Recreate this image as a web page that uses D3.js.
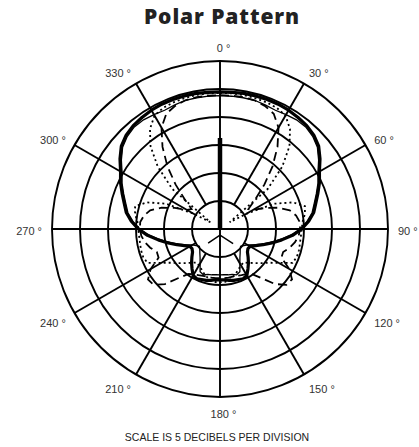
<!DOCTYPE html>
<html lang="en">
<head>
<meta charset="UTF-8">
<title>Polar Pattern</title>
<script src="https://d3js.org/d3.v7.min.js"></script>
<style>
  body { margin: 0; background: #fff; }
</style>
</head>
<body>
<div id="chart"></div>
<script>
// angles in degrees, clockwise from the front (0)
var angles = d3.range(0, 360, 5);

// response in dB, outer ring = 0 dB, centre = -30 dB
var thickDb = [-5.5,-5.5,-5.4,-5.4,-5.4,-5.4,-5.5,-5.7,-5.9,-6.3,-7.0,-8.2,-9.5,-10.4,-11.4,-12.3,-13.0,-14.1,-15.4,-17.0,-18.8,-20.4,-21.8,-23.0,-23.8,-23.9,-23.6,-22.9,-22.1,-21.3,-20.4,-20.2,-20.4,-20.5,-20.7,-20.9,-20.9,
  -20.9,-20.7,-20.5,-20.4,-20.2,-20.4,-21.3,-22.1,-22.9,-23.6,-23.9,-23.8,-23.0,-21.8,-20.4,-18.8,-17.0,-15.4,-14.1,-13.0,-12.3,-11.4,-10.4,-9.5,-8.2,-7.0,-6.3,-5.9,-5.7,-5.5,-5.4,-5.4,-5.4,-5.4,-5.5];
var thinDb = [-6.2,-6.2,-6.2,-6.2,-6.4,-6.6,-6.4,-6.2,-6.2,-6.6,-7.3,-8.5,-9.8,-10.7,-11.7,-12.6,-13.3,-14.4,-15.7,-17.3,-19.1,-20.7,-22.1,-23.3,-24.3,-24.8,-25.2,-24.9,-24.4,-23.8,-22.9,-21.6,-21.3,-21.6,-21.7,-21.8,-21.8,
  -21.8,-21.7,-21.6,-21.3,-21.6,-22.9,-23.8,-24.4,-24.9,-25.2,-24.8,-24.3,-23.3,-22.1,-20.7,-19.1,-17.3,-15.7,-14.4,-13.3,-12.6,-11.7,-10.7,-9.8,-8.5,-7.3,-6.6,-6.2,-6.2,-6.4,-6.6,-6.4,-6.2,-6.2,-6.2];
var dashDb = [-6.1,-6.1,-6.1,-6.2,-6.6,-7.3,-9.1,-12.1,-15.4,-18.8,-21.8,-23.8,-23.2,-21.1,-18.9,-17.1,-16.2,-15.7,-15.7,-15.9,-16.4,-17.1,-18.0,-17.9,-15.7,-14.3,-14.5,-16.1,-18.6,-20.2,-20.7,-20.9,-21.1,-21.2,-21.2,-21.2,-21.2,
  -21.2,-21.2,-21.2,-21.1,-20.9,-20.7,-20.2,-18.6,-16.1,-14.5,-14.3,-15.7,-17.9,-18.0,-17.1,-16.4,-15.9,-15.7,-15.7,-16.2,-17.1,-18.9,-21.1,-23.2,-23.8,-21.8,-18.8,-15.4,-12.1,-9.1,-7.3,-6.6,-6.2,-6.1,-6.1];
var dotDb = [-5.7,-5.7,-5.7,-5.8,-5.9,-6.1,-6.6,-8.2,-10.7,-14.3,-18.9,-27.9,-24.6,-19.3,-16.1,-14.3,-14.6,-15.2,-15.4,-15.5,-15.5,-15.4,-15.4,-15.7,-17.9,-19.5,-20.5,-21.4,-22.1,-22.7,-22.5,-22.1,-21.6,-21.1,-20.7,-20.5,-20.5,
  -20.5,-20.7,-21.1,-21.6,-22.1,-22.5,-22.7,-22.1,-21.4,-20.5,-19.5,-17.9,-15.7,-15.4,-15.4,-15.5,-15.5,-15.4,-15.2,-14.6,-14.3,-16.1,-19.3,-24.6,-27.9,-18.9,-14.3,-10.7,-8.2,-6.6,-6.1,-5.9,-5.8,-5.7,-5.7];

// the on-axis spike and the little rear legs near the centre
var needleAngles = [0, 0];
var needleDb = [-30, -13.75];
var legAngles = [138, 180, 220];
var legDb = [-26.5, -28.9, -26.7];

var ringDb = [-25, -20, -15, -10, -5, 0];
var spokeAngles = [0, 30, 60, 90, 120, 150, 180, 210, 240, 270, 300, 330];
var tickLabels = ["0", "30", "60", "90", "120", "150", "180", "210", "240", "270", "300", "330"];

var width = 419, height = 447;
var cx = 220, cy = 229, R = 168;

var svg = d3.select("#chart").append("svg")
    .attr("width", width)
    .attr("height", height);

var r = d3.scaleLinear().domain([-30, 0]).range([0, R]).clamp(true);
var rad = function(a) { return a * Math.PI / 180; };

var g = svg.append("g").attr("transform", "translate(" + cx + "," + cy + ")");

// rings
g.selectAll("circle.ring")
    .data(ringDb)
    .enter().append("circle")
    .attr("class", "ring")
    .attr("r", function(d) { return r(d); })
    .attr("fill", "none")
    .attr("stroke", "#000")
    .attr("stroke-width", 1.9);

// spokes: the four main axes go through the middle, the rest start at the first ring
g.selectAll("line.spoke")
    .data(spokeAngles)
    .enter().append("line")
    .attr("class", "spoke")
    .attr("x1", function(a) { var r0 = a % 90 == 0 ? 0 : r(-25); return r0 * Math.sin(rad(a)); })
    .attr("y1", function(a) { var r0 = a % 90 == 0 ? 0 : r(-25); return -r0 * Math.cos(rad(a)); })
    .attr("x2", function(a) { return R * Math.sin(rad(a)); })
    .attr("y2", function(a) { return -R * Math.cos(rad(a)); })
    .attr("stroke", "#000")
    .attr("stroke-width", 1.9);

// angle labels
g.selectAll("text.tick")
    .data(spokeAngles)
    .enter().append("text")
    .attr("class", "tick")
    .attr("x", function(a, i) {
        if (a == 0 || a == 180) return 3.5;
        return 178 * Math.sin(rad(a));
    })
    .attr("y", function(a) { return 2 - 183 * Math.cos(rad(a)); })
    .attr("text-anchor", function(a) {
        if (a == 0 || a == 180) return "middle";
        return a < 180 ? "start" : "end";
    })
    .attr("dominant-baseline", "central")
    .style("font-family", "'Liberation Sans', Arial, sans-serif")
    .style("font-size", "11px")
    .style("fill", "#333")
    .text(function(a, i) { return tickLabels[i] + " \u00b0"; });

// response curves
function series(db) {
    return angles.map(function(a, i) { return [rad(a), r(db[i])]; });
}
var closedLine = d3.lineRadial().curve(d3.curveLinearClosed);
var openLine = d3.lineRadial();

g.append("path")
    .attr("d", closedLine(series(dotDb)))
    .attr("fill", "none")
    .attr("stroke", "#000")
    .attr("stroke-width", 1.8)
    .attr("stroke-dasharray", "2,3");

g.append("path")
    .attr("d", closedLine(series(dashDb)))
    .attr("fill", "none")
    .attr("stroke", "#000")
    .attr("stroke-width", 1.8)
    .attr("stroke-dasharray", "9,5");

g.append("path")
    .attr("d", closedLine(series(thinDb)))
    .attr("fill", "none")
    .attr("stroke", "#000")
    .attr("stroke-width", 1.3);

g.append("path")
    .attr("d", closedLine(series(thickDb)))
    .attr("fill", "none")
    .attr("stroke", "#000")
    .attr("stroke-width", 3.2)
    .attr("stroke-linejoin", "round");

g.append("path")
    .attr("d", openLine(legAngles.map(function(a, i) { return [rad(a), r(legDb[i])]; })))
    .attr("fill", "none")
    .attr("stroke", "#000")
    .attr("stroke-width", 1.5);

g.append("path")
    .attr("d", openLine(needleAngles.map(function(a, i) { return [rad(a), r(needleDb[i])]; })))
    .attr("fill", "none")
    .attr("stroke", "#000")
    .attr("stroke-width", 4.5);

// title and footer
svg.append("text")
    .attr("x", 222)
    .attr("y", 24)
    .attr("text-anchor", "middle")
    .style("font-family", "'Open Sans', sans-serif")
    .style("font-weight", "800")
    .style("font-size", "21px")
    .style("letter-spacing", "0.9px")
    .style("fill", "#222")
    .text("Polar Pattern");

svg.append("text")
    .attr("x", 217)
    .attr("y", 441)
    .attr("text-anchor", "middle")
    .style("font-family", "'Liberation Sans', Arial, sans-serif")
    .style("font-size", "10.5px")
    .style("fill", "#222")
    .text("SCALE IS 5 DECIBELS PER DIVISION");
</script>
</body>
</html>
